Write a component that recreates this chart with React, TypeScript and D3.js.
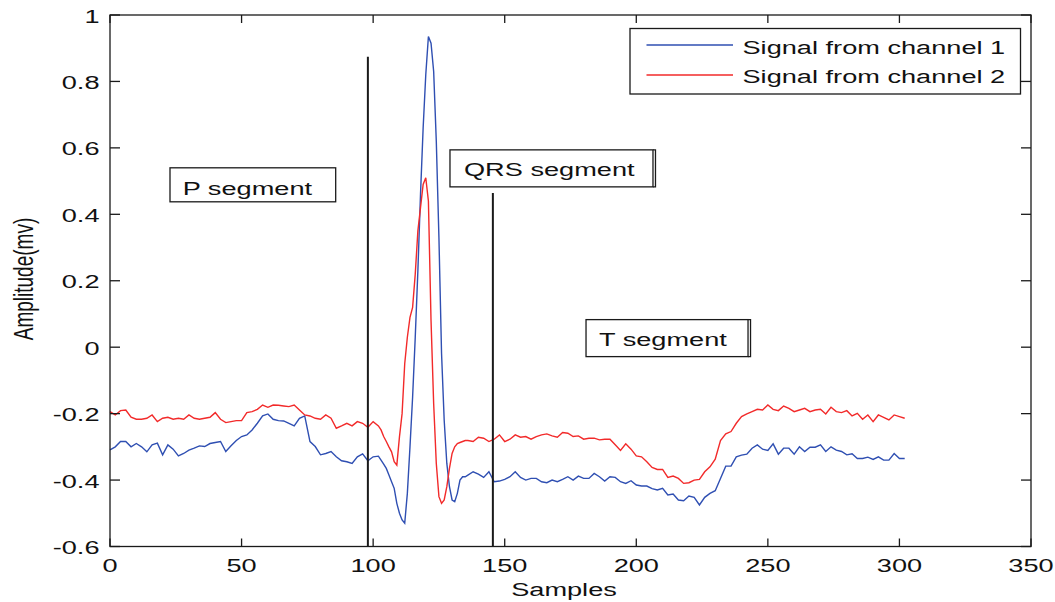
import React from "react";
import * as d3 from "d3";

// Sample indices (x) at which the traces were read
const sampleIdx = [
  0, 2, 4, 6, 8, 10, 12, 14, 16, 18, 20, 22, 24, 26, 28, 30, 32, 34, 36, 38, 40, 42, 44, 46, 48, 50,
  52, 54, 56, 58, 60, 62, 64, 66, 68, 70, 72, 74, 76, 78, 80, 82, 84, 86, 88, 90, 92, 94, 96, 98, 100, 102,
  103, 104, 105, 106, 107, 108, 109, 110, 111, 112, 113, 114, 115, 116, 117, 118, 119, 120, 121, 122,
  123, 124, 125, 126, 127, 128, 129, 130, 131, 132, 133, 134, 135,
  136, 138, 140, 142, 144, 146, 148, 150, 152, 154, 156, 158, 160, 162, 164, 166, 168, 170, 172, 174,
  176, 178, 180, 182, 184, 186, 188, 190, 192, 194, 196, 198, 200, 202, 204, 206, 208, 210, 212, 214,
  216, 218, 220, 222, 224, 226, 228, 230, 232, 234, 236, 238, 240, 242, 244, 246, 248, 250, 252, 254,
  256, 258, 260, 262, 264, 266, 268, 270, 272, 274, 276, 278, 280, 282, 284, 286, 288, 290, 292, 294,
  296, 298, 300, 302,
];

const channel1 = [
  -0.309, -0.3, -0.284, -0.284, -0.3, -0.29, -0.3, -0.315, -0.294, -0.289,
  -0.324, -0.294, -0.307, -0.327, -0.32, -0.31, -0.304, -0.297, -0.299, -0.29,
  -0.287, -0.284, -0.314, -0.297, -0.281, -0.269, -0.264, -0.249, -0.229, -0.207,
  -0.201, -0.217, -0.221, -0.222, -0.229, -0.237, -0.214, -0.207, -0.284, -0.299,
  -0.324, -0.32, -0.314, -0.33, -0.342, -0.345, -0.35, -0.33, -0.321, -0.342,
  -0.33, -0.328,
  -0.34, -0.352, -0.365, -0.385, -0.405, -0.425, -0.47, -0.5, -0.52, -0.53,
  -0.44, -0.3, -0.15, 0.03, 0.23, 0.46, 0.66, 0.82, 0.935, 0.915,
  0.83, 0.62, 0.33, -0.02, -0.22, -0.35, -0.42, -0.46, -0.465, -0.44,
  -0.4, -0.39, -0.39,
  -0.385, -0.375, -0.382, -0.392, -0.375, -0.405, -0.403, -0.398, -0.39, -0.375,
  -0.392, -0.4, -0.395, -0.395, -0.405, -0.408, -0.4, -0.405, -0.398, -0.39,
  -0.4, -0.388, -0.395, -0.395, -0.38, -0.39, -0.403, -0.39, -0.392, -0.405,
  -0.41, -0.402, -0.415, -0.418, -0.418, -0.426, -0.43, -0.425, -0.445, -0.442,
  -0.46, -0.462, -0.448, -0.452, -0.475, -0.452, -0.44, -0.432, -0.395, -0.358,
  -0.358, -0.33, -0.325, -0.322, -0.304, -0.294, -0.307, -0.311, -0.291, -0.322,
  -0.304, -0.304, -0.322, -0.3, -0.314, -0.301, -0.301, -0.294, -0.314, -0.3,
  -0.31, -0.314, -0.324, -0.321, -0.335, -0.335, -0.331, -0.338, -0.33, -0.34,
  -0.34, -0.32, -0.335, -0.335,
];

const channel2 = [
  -0.194, -0.204, -0.191, -0.189, -0.211, -0.217, -0.217, -0.214, -0.204, -0.224,
  -0.214, -0.211, -0.217, -0.214, -0.217, -0.204, -0.214, -0.217, -0.214, -0.211,
  -0.197, -0.217, -0.227, -0.224, -0.221, -0.221, -0.197, -0.194, -0.187, -0.174,
  -0.181, -0.174, -0.175, -0.177, -0.179, -0.174, -0.189, -0.204, -0.207, -0.214,
  -0.217, -0.204, -0.214, -0.244, -0.237, -0.229, -0.237, -0.224, -0.229, -0.241,
  -0.224, -0.237,
  -0.249, -0.269, -0.284, -0.3, -0.315, -0.345, -0.355, -0.27, -0.2, -0.05,
  0.03, 0.09, 0.12, 0.22, 0.35, 0.42, 0.49, 0.51, 0.44, 0.08,
  -0.17, -0.35, -0.45, -0.47, -0.46, -0.42, -0.365, -0.32, -0.3, -0.29,
  -0.287, -0.284, -0.281,
  -0.281, -0.284, -0.271, -0.274, -0.284, -0.277, -0.264, -0.284, -0.277, -0.264,
  -0.271, -0.269, -0.277, -0.269, -0.264, -0.261, -0.267, -0.271, -0.257, -0.259,
  -0.269, -0.267, -0.277, -0.274, -0.274, -0.279, -0.277, -0.277, -0.294, -0.311,
  -0.291, -0.307, -0.327, -0.33, -0.345, -0.362, -0.368, -0.368, -0.392, -0.388,
  -0.395, -0.41, -0.408, -0.4, -0.398, -0.375, -0.36, -0.337, -0.281, -0.261,
  -0.254, -0.229, -0.209, -0.201, -0.194, -0.187, -0.189, -0.174, -0.187, -0.191,
  -0.177, -0.184, -0.194, -0.189, -0.184, -0.194, -0.189, -0.187, -0.201, -0.181,
  -0.194, -0.197, -0.191, -0.207, -0.199, -0.217, -0.204, -0.224, -0.204, -0.211,
  -0.219, -0.204, -0.209, -0.214,
];

const xTicks = [0, 50, 100, 150, 200, 250, 300, 350];
const yTicks = [-0.6, -0.4, -0.2, 0, 0.2, 0.4, 0.6, 0.8, 1];
const yTickLabels = ["-0.6", "-0.4", "-0.2", "0", "0.2", "0.4", "0.6", "0.8", "1"];
const legendLabels = ["Signal from channel 1", "Signal from channel 2"];
const segmentLabels = ["P segment", "QRS segment", "T segment"];
// annotation anchors in data units: [sample, amplitude]
const segmentAnchors: [number, number][] = [[22.8, 0.54], [129.2, 0.594], [180.9, 0.083]];
const markerSamples = [98, 145.5];
const markerTops = [0.874, 0.464];

const FONT = "'Liberation Sans', Arial, Helvetica, sans-serif";
const SX = 1.43;

export default function App() {
  const W = 1055, H = 602;
  const left = 110, right = 1031, top = 15, bottom = 546.5;
  const x = d3.scaleLinear().domain([0, 350]).range([left, right]);
  const y = d3.scaleLinear().domain([-0.6, 1]).range([bottom, top]);

  const line = d3
    .line<number>()
    .x((_, i) => x(sampleIdx[i]))
    .y((d) => y(d));

  const blue = "#2f4fb2";
  const red = "#f22a2a";
  const ink = "#1a1a1a";

  const T = (props: { x: number; y: number; anchor?: string; children: React.ReactNode; rotate?: boolean }) => (
    <text
      transform={`translate(${props.x},${props.y}) scale(${SX},1)${props.rotate ? " rotate(-90)" : ""}`}
      textAnchor={props.anchor || "start"}
      fontFamily={FONT}
      fontSize={19}
      fill="#111"
    >
      {props.children}
    </text>
  );

  const boxW = [165.7, 203, 162];
  const boxH = [34, 37, 37];
  const textDx = [12.7, 14, 13];
  const textDy = [27, 26.5, 26.5];

  return (
    <svg
      width={W}
      height={H}
      style={{ position: "absolute", left: 0, top: 0, background: "#fff" }}
    >
      <rect x={0} y={0} width={W} height={H} fill="#fff" />
      {/* data */}
      <path d={line(channel1) || ""} fill="none" stroke={blue} strokeWidth={1.4} />
      <path d={line(channel2) || ""} fill="none" stroke={red} strokeWidth={1.4} />

      {/* segment marker lines */}
      {markerSamples.map((s, i) => (
        <line key={"m" + i} x1={x(s)} x2={x(s)} y1={y(markerTops[i])} y2={bottom} stroke={ink} strokeWidth={2} />
      ))}

      {/* axes frame */}
      <rect x={left} y={top} width={right - left} height={bottom - top} fill="none" stroke={ink} strokeWidth={1.3} />
      {xTicks.map((t) => (
        <g key={"xt" + t}>
          <line x1={x(t)} x2={x(t)} y1={bottom} y2={bottom - 8} stroke={ink} strokeWidth={1.3} />
          <line x1={x(t)} x2={x(t)} y1={top} y2={top + 8} stroke={ink} strokeWidth={1.3} />
          <T x={x(t)} y={572} anchor="middle">{String(t)}</T>
        </g>
      ))}
      {yTicks.map((t, i) => (
        <g key={"yt" + i}>
          <line x1={left} x2={left + 10} y1={y(t)} y2={y(t)} stroke={ink} strokeWidth={1.3} />
          <line x1={right} x2={right - 10} y1={y(t)} y2={y(t)} stroke={ink} strokeWidth={1.3} />
          <T x={99.5} y={y(t) + 7.5} anchor="end">{yTickLabels[i]}</T>
        </g>
      ))}

      {/* axis labels */}
      <T x={564} y={596} anchor="middle">Samples</T>
      <T x={33} y={279} anchor="middle" rotate>Amplitude(mv)</T>

      {/* segment annotation boxes */}
      {segmentLabels.map((lab, i) => {
        const bx = x(segmentAnchors[i][0]);
        const by = y(segmentAnchors[i][1]);
        return (
          <g key={"seg" + i}>
            <rect x={bx} y={by} width={boxW[i]} height={boxH[i]} fill="#fff" stroke={ink} strokeWidth={1.3} />
            {i > 0 && (
              <path
                d={`M${bx + boxW[i]},${by} h2.5 v${boxH[i]} h-2.5`}
                fill="none"
                stroke={ink}
                strokeWidth={1.3}
              />
            )}
            <T x={bx + textDx[i]} y={by + textDy[i]}>{lab}</T>
          </g>
        );
      })}

      {/* legend */}
      <rect x={630} y={28.5} width={390.5} height={65.5} fill="#fff" stroke={ink} strokeWidth={1.3} />
      {legendLabels.map((lab, i) => (
        <g key={"lg" + i}>
          <line x1={646.5} x2={733} y1={45 + i * 30} y2={45 + i * 30} stroke={i === 0 ? blue : red} strokeWidth={1.4} />
          <T x={742.5} y={54 + i * 29}>{lab}</T>
        </g>
      ))}
    </svg>
  );
}
